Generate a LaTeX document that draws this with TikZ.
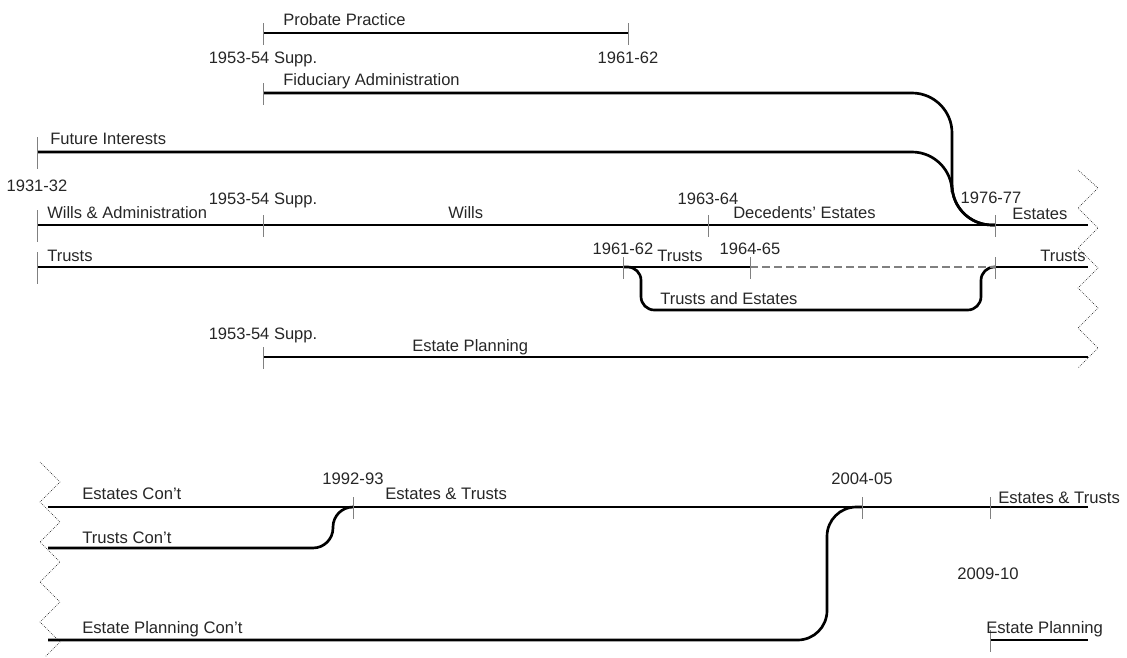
\documentclass[tikz,border=0pt]{standalone}
\usepackage{fontspec}
\setmainfont{Liberation Sans}
\usetikzlibrary{calc}

\begin{document}
\begin{tikzpicture}[x=0.75pt, y=-0.75pt,
  every node/.style={font=\fontsize{12.4}{14}\selectfont, text=black!85, inner sep=0pt},
  tickmark/.style={gray, line width=0.7pt},
  track/.style={line width=2pt},
  lbl/.style={anchor=base west},
  yr/.style={anchor=base}]

\useasboundingbox (0,0) rectangle (1127,657);

\coordinate (pp1) at (263,33);
\coordinate (pp2) at (628,33);
\coordinate (fa1) at (263,93);
\coordinate (fi1) at (37,152);
\coordinate (fabend) at (952,225);
\coordinate (wa1) at (37,225);
\coordinate (wa2) at (263,225);
\coordinate (de1) at (708,225);
\coordinate (es1) at (995,225);
\coordinate (wae) at (1088,225);
\coordinate (tr1) at (37,267);
\coordinate (tr2) at (623,267);
\coordinate (tr3) at (750,267);
\coordinate (tr4) at (995,267);
\coordinate (tre) at (1088,267);
\coordinate (tebl) at (641,310);
\coordinate (tebr) at (981,310);
\coordinate (ep1) at (263,357);
\coordinate (epe) at (1088,357);

\coordinate (ec0) at (48,507);
\coordinate (ec1) at (353,507);
\coordinate (ec2) at (862,507);
\coordinate (ec3) at (990,507);
\coordinate (ece) at (1088,507);
\coordinate (tc0) at (48,548);
\coordinate (tcup) at (333,507);
\coordinate (epc0) at (48,640);
\coordinate (epcup) at (827,507);
\coordinate (ep2) at (990,640);
\coordinate (ep2e) at (1088,640);

\begin{scope}[track]
\draw (pp1) -- (pp2);
\draw[rounded corners=30pt] (fa1) -| (fabend) -- (es1);
\draw[rounded corners=30pt] (fi1) -| (fabend) -- (es1);
\draw (wa1) -- (wae);
\draw (tr1) -- (tr3);
\draw (tr4) -- (tre);
\draw[rounded corners=10pt] (tr2) -| (tebl) -- (tebr) |- (tr4);
\draw (ep1) -- (epe);

\draw (ec0) -- (ece);
\draw[rounded corners=15pt] (tc0) -| (tcup) -- (ec1);
\draw[rounded corners=22pt] (epc0) -| (epcup) -- (ec2);
\draw (ep2) -- (ep2e);
\end{scope}

\draw[gray, line width=1pt, dash pattern=on 6pt off 3pt] (tr3) -- (tr4);

\foreach \p in {fi1,wa1,tr1}
  \draw[tickmark] ($(\p)+(0,-15)$) -- ($(\p)+(0,17)$);
\foreach \p in {pp1,pp2,fa1,wa2,de1,es1,tr2,tr3,tr4,ep1,ec1,ec2,ec3,ep2}
  \draw[tickmark] ($(\p)+(0,-10)$) -- ($(\p)+(0,12)$);

\draw[densely dotted, line width=0.5pt] (1078,170)
  \foreach \i in {0,...,4} { -- (1098,188+40*\i) -- (1078,208+40*\i) };
\draw[densely dotted, line width=0.5pt] (40,462)
  \foreach \i in {0,...,3} { -- (60,482+40*\i) -- (40,502+40*\i) } -- (60,642) -- (45,657);

\node[lbl] (lpp) at (283,25) {Probate Practice};
\node[yr] (y1) at (263,63) {1953-54 Supp.};
\node[yr] (y2) at (628,63) {1961-62};
\node[lbl] (lfa) at (283,85) {Fiduciary Administration};
\node[lbl] (lfi) at (50,144) {Future Interests};
\node[yr] (y3) at (37,191) {1931-32};
\node[yr] (y4) at (263,204) {1953-54 Supp.};
\node[lbl] (lwa) at (47,218) {Wills \& Administration};
\node[lbl] (lwi) at (448,218) {Wills};
\node[yr] (y5) at (708,204) {1963-64};
\node[lbl] (lde) at (733,218) {Decedents' Estates};
\node[yr] (y6) at (991,203) {1976-77};
\node[lbl] (les) at (1012,219) {Estates};
\node[lbl] (ltr) at (47,261) {Trusts};
\node[yr] (y7) at (623,254) {1961-62};
\node[lbl] (ltr2) at (657,261) {Trusts};
\node[yr] (y8) at (750,254) {1964-65};
\node[lbl] (ltr3) at (1040,261) {Trusts};
\node[lbl] (lte) at (660,304) {Trusts and Estates};
\node[yr] (y9) at (263,339) {1953-54 Supp.};
\node[lbl] (lep) at (412,351) {Estate Planning};

\begin{scope}[every node/.append style={font=\fontsize{12.5}{15}\selectfont}]
\node[yr] (y10) at (353,484) {1992-93};
\node[yr] (y11) at (862,484) {2004-05};
\node[lbl] (lec) at (82,499) {Estates Con't};
\node[lbl] (let) at (385,499) {Estates \& Trusts};
\node[lbl] (let2) at (998,503) {Estates \& Trusts};
\node[lbl] (ltc) at (82,543) {Trusts Con't};
\node[yr] (y12) at (988,579) {2009-10};
\node[lbl] (lepc) at (82,633) {Estate Planning Con't};
\node[lbl] (lep2) at (986,633) {Estate Planning};
\end{scope}

\end{tikzpicture}
\end{document}
